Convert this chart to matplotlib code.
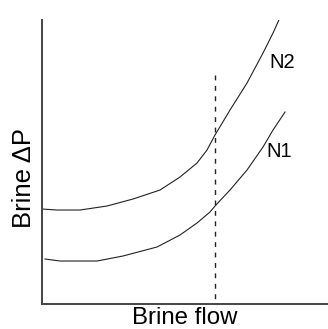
import matplotlib.pyplot as plt

# curves (arbitrary units)
n2_x = [0, 15, 38, 65, 91, 118, 138, 155, 165, 173, 188, 205, 221, 231, 240]
n2_y = [95, 94, 94, 98, 105, 114, 127, 141, 154, 169, 194, 221, 251, 271, 291]

n1_x = [3, 18, 55, 81, 115, 138, 155, 168, 173, 188, 205, 221, 231, 243]
n1_y = [45, 43, 43, 48, 57, 69, 81, 92, 98, 114, 134, 157, 174, 192]

flow_mark = 173
flow_mark_top = 229

plt.rcParams['font.family'] = ['Liberation Sans', 'DejaVu Sans']

fig = plt.figure(figsize=(3.28, 3.29), dpi=100)
ax = fig.add_axes([0.128, 0.076, 0.872, 0.863])

ax.plot(n2_x, n2_y, color='#222222', linewidth=0.8)
ax.plot(n1_x, n1_y, color='#222222', linewidth=0.8)
# drawn top-down so the dash pattern starts at the top
ax.plot([flow_mark, flow_mark], [flow_mark_top, 0], color='#222222',
        linewidth=1.0, linestyle=(0, (3.5, 4)))

ax.text(240, 242, 'N2', fontsize=14.5, ha='center', va='center')
ax.text(237, 153, 'N1', fontsize=14.5, ha='center', va='center')

ax.set_xlim(0, 286)
ax.set_ylim(0, 284)
ax.set_xticks([])
ax.set_yticks([])
for side in ['top', 'right']:
    ax.spines[side].set_visible(False)
for side in ['left', 'bottom']:
    ax.spines[side].set_color('#444444')
    ax.spines[side].set_linewidth(1.4)

ax.set_xlabel('Brine flow', fontsize=17.3, labelpad=2)
ax.set_ylabel('Brine ΔP', fontsize=18.5)
ax.yaxis.set_label_coords(-0.02, 0.444)

fig.savefig('out.png', dpi=100)
